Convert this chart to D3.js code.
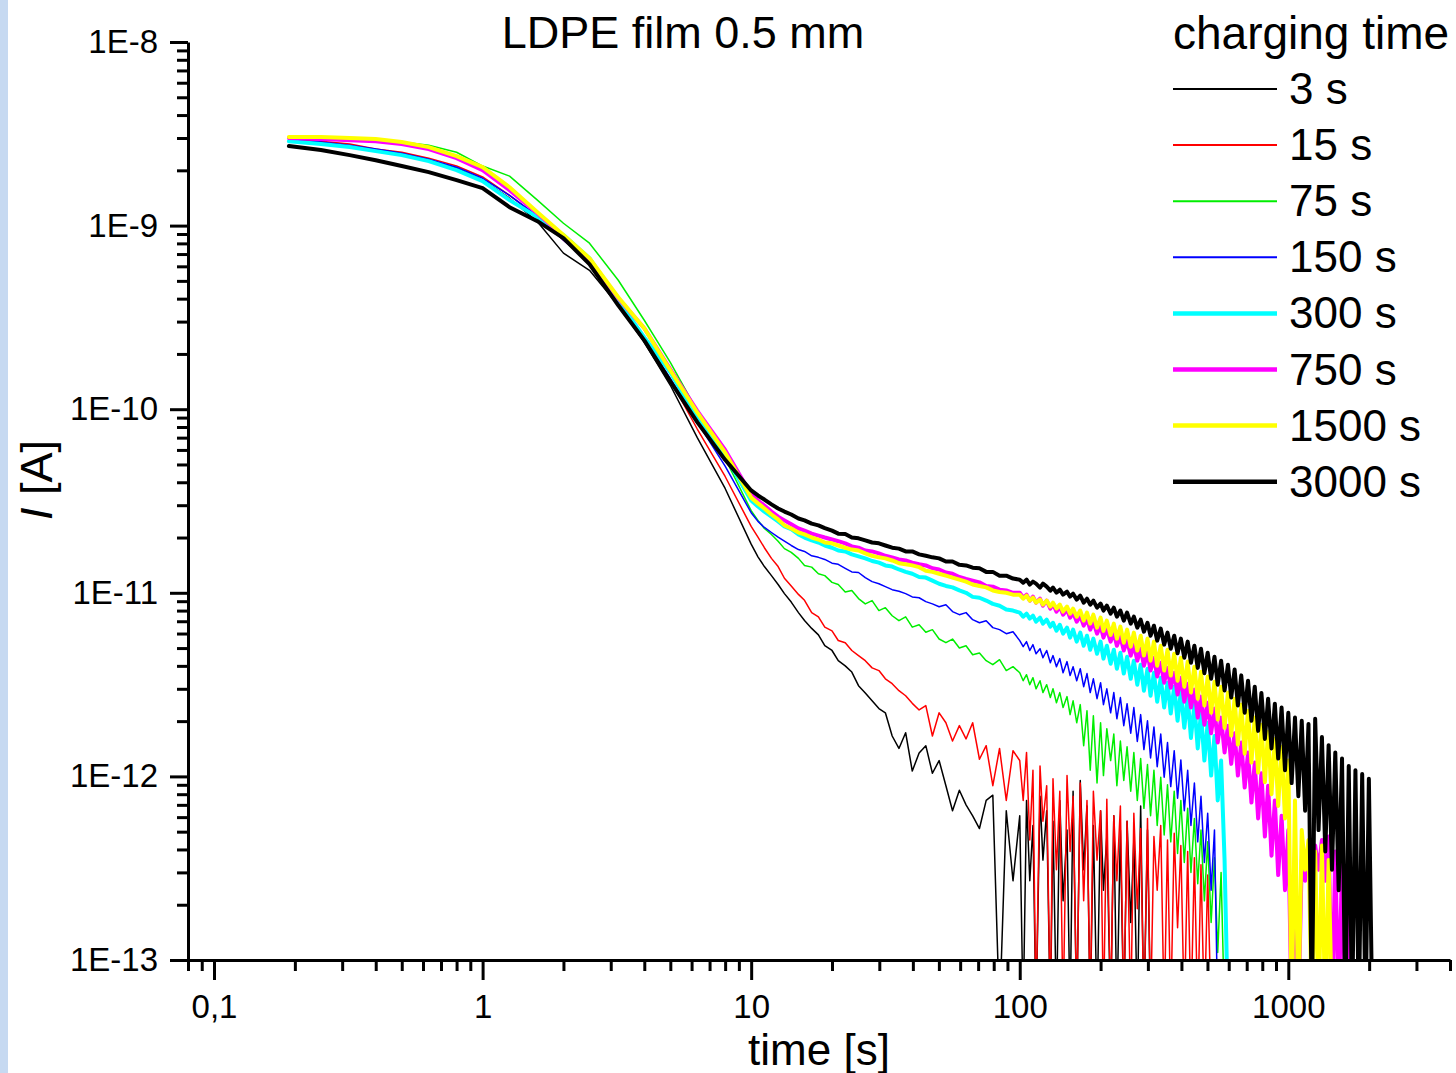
<!DOCTYPE html>
<html>
<head>
<meta charset="utf-8">
<script src="https://cdn.jsdelivr.net/npm/d3@7"></script>
<style>
  body { margin: 0; background: #fff; }
  text { font-family: 'Liberation Sans', Arial, sans-serif; fill: #000; }
</style>
</head>
<body>
<svg id="chart" width="1456" height="1073"></svg>
<script>
// sample times [s]: fast early part, 10-100 s, then the noisy end (denser)
const headTimes = [0.19, 0.25, 0.32, 0.4, 0.5, 0.63, 0.8, 1, 1.26, 1.6, 2, 2.5, 3.2, 4, 5, 6.3, 8];
const midTimes = [
  10, 10.6, 11.2, 11.9, 12.6, 13.3, 14.1, 15, 15.8, 16.8, 17.8, 18.8, 20, 21.1, 22.4, 23.7, 25.1, 26.6, 28.2, 29.9,
  31.6, 33.5, 35.5, 37.6, 39.8, 42.2, 44.7, 47.3, 50.1, 53.1, 56.2, 59.6, 63.1, 66.8, 70.8, 75, 79.4, 84.1, 89.1, 94.4
];
const lateTimes = [
  100, 103, 106, 109, 112, 115, 119, 122, 126, 130, 133, 137, 141, 145, 150, 154, 158, 163, 168, 173,
  178, 183, 188, 194, 200, 205, 211, 218, 224, 230, 237, 244, 251, 259, 266, 274, 282, 290, 299, 307,
  316, 325, 335, 345, 355, 365, 376, 387, 398, 410, 422, 434, 447, 460, 473, 487, 501, 516, 531, 546,
  562, 579, 596, 613, 631, 649, 668, 688, 708, 729, 750, 772, 794, 818, 841, 866, 891, 917, 944, 972,
  1000, 1029, 1059, 1090, 1122, 1155, 1189, 1223, 1259, 1296, 1334, 1373, 1413, 1454, 1496, 1540, 1585, 1631, 1679, 1728,
  1778, 1830, 1884, 1939, 1995, 2054, 2113, 2175, 2239
];
const times = headTimes.concat(midTimes, lateTimes);

const chargingTimes = ['3 s', '15 s', '75 s', '150 s', '300 s', '750 s', '1500 s', '3000 s'];

// discharge current in pA, one value per entry of `times` (0.05 = below the axis)
const current3 = [
  2920, 2810, 2710, 2580, 2450, 2270, 2060, 1770, 1410, 1050, 708, 571, 368, 231, 135, 70, 37,
  18.4, 15.7, 13.9, 12.4, 11.1, 9.9, 8.9, 7.8, 7.06, 6.4, 5.9, 5.15, 4.85, 4.27, 4.0, 3.7, 3.12, 2.85, 2.58, 2.34,
  2.22, 1.66, 1.42, 1.73, 1.07, 1.34, 1.47, 1.04, 1.22, 0.89, 0.65, 0.84, 0.70, 0.61, 0.52, 0.74, 0.79, 0.05, 0.65, 0.27,
  0.61, 0.05, 0.74, 0.27, 0.54, 0.05, 0.78, 0.35, 0.65, 0.05, 0.57, 0.05, 0.74, 0.21, 0.51, 0.05, 0.83, 0.05, 0.95, 0.31,
  0.69, 0.05, 0.54, 0.05, 0.65, 0.24, 0.47, 0.05, 0.61, 0.05, 0.51, 0.05, 0.57, 0.16, 0.45, 0.05, 0.69, 0.05, 0.51, 0.05
];
const current15 = [
  2960, 2880, 2780, 2610, 2510, 2330, 2110, 1840, 1460, 1125, 832, 631, 392, 237, 144, 78, 43,
  23.0, 20.1, 17.6, 15.4, 13.9, 12.0, 10.9, 9.8, 9.1, 7.8, 7.4, 6.5, 6.2, 5.5, 5.35, 4.85, 4.55, 4.27, 3.9, 3.77,
  3.4, 3.2, 2.93, 2.75, 2.5, 2.3, 2.43, 1.66, 2.22, 1.96, 1.56, 1.89, 1.6, 1.96, 1.24, 1.47, 0.89, 1.42, 0.74, 1.38,
  1.22, 0.74, 1.35, 0.45, 1.08, 0.05, 1.14, 0.57, 0.89, 0.05, 0.97, 0.31, 0.83, 0.05, 1.01, 0.39, 0.78, 0.05, 0.92, 0.21,
  0.74, 0.05, 0.83, 0.35, 0.65, 0.05, 0.75, 0.05, 0.61, 0.27, 0.69, 0.05, 0.57, 0.05, 0.63, 0.19, 0.52, 0.05, 0.59, 0.05,
  0.47, 0.24, 0.54, 0.05, 0.45, 0.05, 0.49, 0.15, 0.42, 0.05, 0.39, 0.05, 0.36, 0.05, 0.33, 0.05, 0.29, 0.05
];
const current75 = [
  3000, 3000, 2960, 2920, 2850, 2740, 2510, 2110, 1860, 1377, 1030, 802, 504, 305, 180, 98, 54,
  28.0, 24.8, 22.4, 20.8, 19.1, 17.4, 16.6, 15.4, 14.1, 13.8, 12.7, 12.4, 11.4, 11.1, 10.1, 10.3, 9.3, 8.7, 9.07, 8.0,
  8.3, 7.5, 7.05, 7.4, 6.5, 6.7, 6.1, 6.3, 5.6, 5.35, 5.6, 5.0, 5.15, 4.6, 4.7, 4.27, 4.06, 4.32, 3.77, 3.96,
  3.67, 3.32, 3.58, 3.16, 3.45, 3.00, 3.32, 2.86, 3.16, 2.69, 3.00, 2.52, 2.86, 2.37, 2.72, 2.17, 2.58, 1.96, 2.46, 1.47,
  2.28, 1.08, 2.14, 0.92, 1.96, 1.01, 1.82, 1.22, 1.70, 0.89, 1.56, 0.95, 1.45, 0.83, 1.35, 0.74, 1.25, 0.67, 1.16, 0.61,
  1.08, 0.54, 0.99, 0.48, 0.90, 0.44, 0.83, 0.38, 0.74, 0.34, 0.67, 0.30, 0.59, 0.26, 0.51, 0.21, 0.44, 0.16, 0.36, 0.11,
  0.30, 0.05
];
const current150 = [
  2920, 2850, 2740, 2610, 2480, 2300, 2080, 1810, 1460, 1125, 832, 631, 382, 243, 147, 85, 49,
  27.3, 24.5, 22.7, 21.3, 20.1, 19.1, 18.1, 17.2, 16.8, 15.9, 15.6, 15.2, 14.5, 14.3, 13.6, 13.0, 12.9, 12.1, 11.5, 11.2,
  10.8, 10.4, 10.2, 9.9, 9.5, 9.4, 8.95, 8.7, 8.4, 8.6, 7.9, 7.6, 7.8, 7.14, 6.87, 7.05, 6.46, 6.30, 5.99, 6.14,
  5.49, 5.09, 5.42, 4.85, 5.22, 4.66, 4.96, 4.43, 4.85, 4.16, 4.55, 3.96, 4.38, 3.67, 4.22, 3.54, 3.96, 3.32, 3.86, 3.08,
  3.63, 2.86, 3.40, 2.65, 3.24, 2.46, 3.00, 2.22, 2.86, 2.06, 2.69, 1.89, 2.49, 1.72, 2.37, 1.55, 2.17, 1.40, 2.01, 1.26,
  1.86, 1.13, 1.70, 0.99, 1.53, 0.88, 1.38, 0.76, 1.23, 0.65, 1.08, 0.54, 0.92, 0.44, 0.78, 0.34, 0.63, 0.24, 0.51, 0.05
];
const current300 = [
  2880, 2780, 2680, 2545, 2420, 2245, 2005, 1746, 1377, 1112, 888, 664, 392, 246, 159, 89, 56,
  31.8, 29.5, 27.7, 26.0, 24.5, 23.0, 22.2, 20.8, 20.0, 19.3, 18.8, 18.1, 17.6, 17.0, 16.8, 16.2, 15.8, 15.4, 14.9, 14.6,
  14.1, 13.9, 13.4, 13.0, 12.7, 12.2, 12.1, 11.65, 11.2, 10.9, 10.7, 10.3, 10.0, 9.5, 9.4, 9.07, 8.7, 8.5, 8.1, 8.0,
  7.80, 7.41, 7.70, 7.23, 7.51, 6.96, 7.32, 6.79, 7.14, 6.54, 6.87, 6.22, 6.70, 5.99, 6.46, 5.70, 6.30, 5.42, 6.07, 5.15,
  5.84, 4.90, 5.63, 4.66, 5.42, 4.38, 5.15, 4.11, 4.90, 3.86, 4.72, 3.63, 4.48, 3.40, 4.27, 3.16, 4.06, 2.93, 3.86, 2.75,
  3.67, 2.55, 3.45, 2.37, 3.24, 2.20, 3.08, 2.01, 2.89, 1.84, 2.69, 1.62, 2.46, 1.42, 2.22, 1.22, 1.96, 1.01, 1.66, 0.74,
  1.22, 0.35, 0.05
];
const current750 = [
  3000, 2960, 2920, 2880, 2780, 2610, 2330, 2005, 1561, 1169, 876, 656, 402, 276, 165, 98, 60,
  34.3, 31.8, 29.9, 27.7, 26.0, 24.8, 23.6, 22.4, 21.8, 21.0, 20.5, 20.0, 19.5, 19.1, 18.6, 17.9, 17.6, 17.0, 16.8, 16.4,
  15.9, 15.6, 15.2, 15.0, 14.6, 14.3, 14.1, 13.6, 13.4, 12.9, 12.7, 12.2, 11.9, 11.65, 11.4, 10.9, 10.8, 10.4, 10.3, 10.0,
  10.02, 9.41, 9.77, 9.06, 9.53, 8.84, 9.29, 8.51, 9.06, 8.20, 8.73, 7.90, 8.41, 7.60, 8.10, 7.32, 7.80, 6.96, 7.51, 6.62,
  7.23, 6.30, 6.96, 5.99, 6.62, 5.70, 6.38, 5.42, 6.07, 5.15, 5.77, 4.85, 5.49, 4.55, 5.22, 4.27, 4.96, 4.01, 4.72, 3.77,
  4.43, 3.50, 4.16, 3.24, 3.90, 3.04, 3.67, 2.79, 3.45, 2.55, 3.20, 2.37, 2.97, 2.09, 2.72, 1.91, 2.52, 1.72, 2.34, 1.53,
  2.09, 1.35, 1.89, 1.17, 1.72, 1.01, 1.53, 0.87, 1.35, 0.72, 1.19, 0.59, 1.04, 0.47, 0.89, 0.37, 0.74, 0.29, 0.61, 0.24,
  0.51, 0.05, 0.39, 0.05, 0.35, 0.27, 0.37, 0.24, 0.42, 0.31, 0.45, 0.27, 0.47, 0.05, 0.39, 0.05, 0.35, 0.05, 0.27, 0.05
];
const current1500 = [
  3035, 3035, 3000, 2960, 2850, 2675, 2390, 2080, 1618, 1183, 888, 664, 407, 276, 163, 96, 58,
  33.0, 30.7, 28.8, 26.7, 25.1, 23.3, 22.4, 21.3, 20.8, 20.0, 19.5, 18.8, 18.6, 18.1, 17.6, 17.2, 17.0, 16.4, 15.9, 15.6,
  15.4, 15.0, 14.5, 14.3, 14.1, 13.8, 13.2, 13.0, 12.7, 12.4, 12.1, 11.8, 11.5, 11.1, 10.9, 10.7, 10.3, 10.1, 10.0, 9.77,
  9.77, 9.29, 9.65, 9.06, 9.41, 8.84, 9.18, 8.62, 9.06, 8.41, 8.84, 8.20, 8.62, 7.90, 8.41, 7.70, 8.20, 7.41, 8.00, 7.05,
  7.80, 6.79, 7.60, 6.46, 7.32, 6.20, 7.05, 5.90, 6.79, 5.63, 6.54, 5.35, 6.30, 5.09, 6.07, 4.85, 5.84, 4.55, 5.63, 4.27,
  5.42, 4.01, 5.15, 3.77, 4.90, 3.54, 4.66, 3.32, 4.43, 3.08, 4.22, 2.86, 3.96, 2.65, 3.72, 2.43, 3.50, 2.22, 3.28, 2.04,
  3.08, 1.84, 2.86, 1.67, 2.65, 1.49, 2.46, 1.33, 2.28, 1.19, 2.09, 1.05, 1.91, 0.93, 1.75, 0.80, 1.60, 0.69, 1.45, 0.59,
  1.22, 0.05, 0.74, 0.05, 0.51, 0.31, 0.45, 0.05, 0.39, 0.05, 0.42, 0.05, 0.35, 0.05
];
const current3000 = [
  2710, 2580, 2420, 2270, 2110, 1955, 1770, 1600, 1260, 1057, 854, 617, 368, 237, 142, 85, 53,
  36.1, 33.9, 32.2, 30.3, 28.8, 27.7, 26.7, 25.4, 24.8, 23.8, 23.3, 22.5, 21.8, 21.0, 20.9, 20.0, 19.8, 19.3, 18.8, 18.6,
  18.1, 17.6, 17.4, 16.8, 16.8, 16.2, 15.9, 15.6, 15.4, 14.8, 14.8, 14.2, 14.1, 13.7, 13.6, 13.0, 13.0, 12.4, 12.4, 11.95,
  11.79, 11.36, 11.79, 11.08, 11.50, 11.22, 10.67, 11.22, 10.80, 10.27, 10.67, 10.02, 10.40, 9.77, 10.14, 9.53, 9.89, 9.18, 9.65, 8.84,
  9.29, 8.62, 9.06, 8.30, 8.73, 8.00, 8.51, 7.70, 8.30, 7.41, 8.00, 7.05, 7.80, 6.79, 7.41, 6.46, 7.14, 6.14, 6.87, 5.84,
  6.62, 5.49, 6.38, 5.22, 6.07, 4.96, 5.84, 4.68, 5.63, 4.43, 5.42, 4.16, 5.15, 3.90, 4.96, 3.65, 4.72, 3.40, 4.48, 3.16,
  4.27, 2.94, 4.06, 2.69, 3.82, 2.43, 3.55, 2.22, 3.32, 2.01, 3.08, 1.77, 2.85, 1.60, 2.65, 1.42, 2.49, 1.25, 2.37, 1.08,
  2.22, 0.92, 2.09, 0.78, 2.01, 0.65, 1.93, 0.05, 2.06, 0.51, 1.64, 0.39, 1.48, 0.31, 1.35, 0.24, 1.25, 0.05, 1.14, 0.05,
  1.08, 0.05, 1.03, 0.05, 0.97, 0.05
];

const currents = [current3, current15, current75, current150, current300, current750, current1500, current3000];

// styles, same order as chargingTimes
const lineColors = ['#000000', '#ff0000', '#00ee00', '#0000ff', '#00ffff', '#ff00ff', '#ffff00', '#000000'];
const lineWidths = [1.5, 1.5, 1.5, 1.5, 4, 4, 4, 4];

const svg = d3.select('#chart');
const margin = { top: 42, right: 6, bottom: 113, left: 188 };
const width = +svg.attr('width') - margin.left - margin.right;
const height = +svg.attr('height') - margin.top - margin.bottom;

svg.append('rect')
  .attr('width', 8)
  .attr('height', +svg.attr('height'))
  .attr('fill', '#c6d9f1');

const g = svg
  .append('g')
  .attr('transform', `translate(${margin.left},${margin.top})`);

const x = d3.scaleLog().domain([0.08, 4000]).range([0, width]);
const y = d3.scaleLog().domain([1e-13, 1e-8]).range([height, 0]);

// log ticks: decades are major, 2..9 are minor
const logTicks = (lo, hi) => {
  const major = [];
  const minor = [];
  for (let e = Math.floor(Math.log10(lo)); e <= Math.ceil(Math.log10(hi)); e++) {
    for (let m = 1; m < 10; m++) {
      const v = +(m * Math.pow(10, e)).toPrecision(6);
      if (v < lo * 0.999 || v > hi * 1.001) continue;
      (m === 1 ? major : minor).push(v);
    }
  }
  return { major, minor };
};
const xt = logTicks(0.08, 4000);
const yt = logTicks(1e-13, 1e-8);

g.append('defs')
  .append('clipPath')
  .attr('id', 'plot-clip')
  .append('rect')
  .attr('width', width)
  .attr('height', height);

const line = d3
  .line()
  .x(d => x(d.t))
  .y(d => y(d.i * 1e-12));

const plot = g.append('g').attr('clip-path', 'url(#plot-clip)');

currents.forEach((vals, k) => {
  plot
    .append('path')
    .datum(vals.map((v, j) => ({ t: times[j], i: v })))
    .attr('fill', 'none')
    .attr('stroke', lineColors[k])
    .attr('stroke-width', lineWidths[k])
    .attr('stroke-linejoin', 'round')
    .attr('stroke-linecap', 'round')
    .attr('d', line);
});

// axes
const styleAxis = sel => {
  sel.selectAll('.domain').attr('stroke-width', 3).attr('stroke', '#000');
  sel.selectAll('.tick line').attr('stroke-width', 3).attr('stroke', '#000');
  sel.selectAll('.tick text')
    .attr('font-size', 33)
    .attr('font-family', "'Liberation Sans', Arial, sans-serif");
};

g.append('g')
  .attr('transform', `translate(0, ${height})`)
  .call(d3.axisBottom(x).tickValues(xt.minor).tickSize(11).tickSizeOuter(0).tickFormat(''))
  .call(sel => sel.select('.domain').remove())
  .call(styleAxis);

g.append('g')
  .attr('transform', `translate(0, ${height})`)
  .call(
    d3.axisBottom(x)
      .tickValues(xt.major)
      .tickSize(20)
      .tickSizeOuter(0)
      .tickPadding(15)
      .tickFormat(d => String(d).replace('.', ','))
  )
  .call(styleAxis);

g.append('g')
  .call(d3.axisLeft(y).tickValues(yt.minor).tickSize(11).tickSizeOuter(0).tickFormat(''))
  .call(sel => sel.select('.domain').remove())
  .call(styleAxis);

g.append('g')
  .call(
    d3.axisLeft(y)
      .tickValues(yt.major)
      .tickSize(18)
      .tickSizeOuter(0)
      .tickPadding(12)
      .tickFormat(d => `1E${Math.round(Math.log10(d))}`)
  )
  .call(styleAxis);

// titles
svg.append('text')
  .attr('x', 683)
  .attr('y', 48)
  .attr('text-anchor', 'middle')
  .attr('font-size', 45)
  .text('LDPE film 0.5 mm');

svg.append('text')
  .attr('x', 819)
  .attr('y', 1065)
  .attr('text-anchor', 'middle')
  .attr('font-size', 44)
  .text('time [s]');

const yTitle = svg.append('text')
  .attr('transform', 'translate(52, 480) rotate(-90)')
  .attr('text-anchor', 'middle')
  .attr('font-size', 45);
yTitle.append('tspan').attr('font-style', 'italic').text('I');
yTitle.append('tspan').text(' [A]');

// legend
const legend = svg.append('g').attr('transform', 'translate(1173, 0)');
legend.append('text')
  .attr('x', 0)
  .attr('y', 49)
  .attr('font-size', 46)
  .text('charging time');

chargingTimes.forEach((label, k) => {
  const ly = 89 + k * 56.1;
  legend.append('line')
    .attr('x1', 0)
    .attr('x2', 104)
    .attr('y1', ly)
    .attr('y2', ly)
    .attr('stroke', lineColors[k])
    .attr('stroke-width', lineWidths[k] + 0.5);
  legend.append('text')
    .attr('x', 116)
    .attr('y', ly + 15)
    .attr('font-size', 44)
    .text(label);
});
</script>
</body>
</html>
